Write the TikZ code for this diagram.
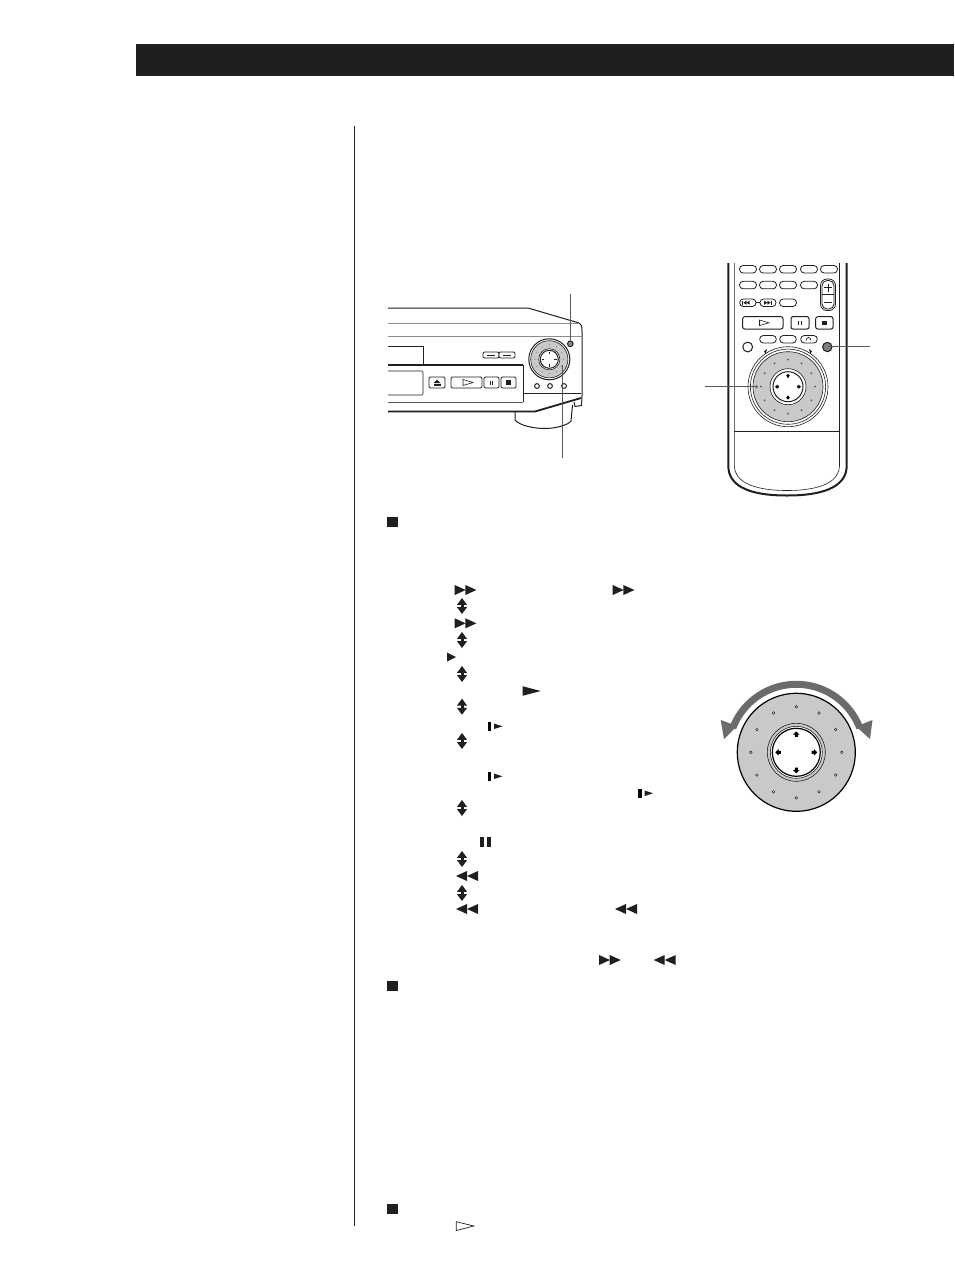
\documentclass[tikz,border=0pt]{standalone}
\definecolor{ink}{gray}{0.12}
\definecolor{dial}{gray}{0.79}
\definecolor{arrowgray}{gray}{0.42}
\tikzset{
  thinline/.style={draw=ink,line width=0.6pt},
  medline/.style={draw=ink,line width=1pt},
  heavy/.style={draw=ink,line width=1.8pt},
  greyline/.style={draw=black!45,line width=1.1pt},
  leader/.style={draw=black!65,line width=1pt},
  btn/.style={draw=ink,line width=0.8pt,fill=white,rounded corners=1.2pt},
  pill/.style={draw=ink,line width=0.8pt,fill=white,rounded corners=3.6pt},
  glyph/.style={fill=ink,draw=none}
}
% glyph macros: #1,#2 = position on the page
\newcommand{\tri}[4]{\fill[glyph] (#1,#2) ++(0,-#4/2) -- ++(#3,#4/2) -- ++(-#3,#4/2) -- cycle;}
\newcommand{\lefttri}[4]{\fill[glyph] (#1,#2) ++(0,-#4/2) -- ++(-#3,#4/2) -- ++(#3,#4/2) -- cycle;}
\newcommand{\ffwd}[2]{\tri{#1}{#2}{11}{10}\tri{#1+10.7}{#2}{11}{10}}
\newcommand{\rewd}[2]{\lefttri{#1+11}{#2}{11}{10}\lefttri{#1+22}{#2}{11}{10}}
\newcommand{\updn}[2]{\fill[glyph] (#1,#2-8) -- (#1+5,#2-1.2) -- (#1-5,#2-1.2) -- cycle;
  \fill[glyph] (#1,#2+8) -- (#1+5,#2+1.2) -- (#1-5,#2+1.2) -- cycle;
  \fill[glyph] (#1-1.5,#2-2) rectangle (#1+1.5,#2+2);}
\newcommand{\stepf}[2]{\fill[black] (#1,#2-4.5) rectangle (#1+3.6,#2+4.5);\tri{#1+6.3}{#2}{8.5}{5.5}}
\newcommand{\sqmark}[2]{\fill[glyph] (#1,#2) rectangle (#1+10.4,#2+10);}
% four small arrows round a centre: x, y, radius, half size
\newcommand{\cross}[4]{%
  \foreach \a in {0,90,180,270}{
    \begin{scope}[shift={(#1,#2)},rotate=\a]
    \fill[black] (#3+#4,0) -- (#3,#4) -- (#3,#4*0.45) -- (#3-#4*0.7,#4*0.45) -- (#3-#4*0.7,-#4*0.45) -- (#3,-#4*0.45) -- (#3,-#4) -- cycle;
    \end{scope}
  }}
\begin{document}
\begin{tikzpicture}[x=1pt,y=-1pt]
\useasboundingbox (0,0) rectangle (954,1272);
\fill[white] (0,0) rectangle (954,1272);
% header and column rule
\fill[ink] (136,44) rectangle (954,76);
\draw[thinline,line width=0.9pt] (354.5,126) -- (354.5,1226);

% ---------- CD player ----------
\draw[medline] (388,308) -- (528,308) -- (579,323) .. controls (581.5,324) and (582,326) .. (582,331) -- (582,396);
\draw[greyline] (388,323.5) -- (579,323.5);
\draw[greyline] (388,336.5) -- (582,336.5);
\draw[medline] (388,346.5) -- (423,346.5) -- (423,364);
\draw[heavy] (388,365) -- (523,365);
\draw[medline] (523,365) -- (523,402);
\draw[draw=black!65,line width=1pt] (388,402) -- (523,402);
\draw[thinline] (388,371) -- (422,371) -- (423,372) -- (423,394) -- (422,395) -- (388,395);
\draw[thinline] (523,393.5) -- (581,393.5);
% base and feet
\draw[medline] (515,412) -- (515,420) .. controls (520,426) and (535,428.5) .. (545,428.5) .. controls (556,428.5) and (568,425) .. (571,421) -- (572.5,405);
\draw[heavy] (388,411.5) -- (535,411.5) -- (581,398);
\draw[medline] (574,402) -- (575,406.5) -- (581.5,405.5) -- (582,396);
% small keys
\draw[btn] (483,352) rectangle (499,358);
\draw[btn] (499,352) rectangle (515,358);
\fill[glyph] (487,354.5) rectangle (495,355.8);
\fill[glyph] (503,354.5) rectangle (511,355.8);
% transport keys
\draw[btn] (429,377) rectangle (445,388);
\draw[btn] (451,377) rectangle (482,388);
\draw[btn] (484,377) rectangle (499,388);
\draw[btn] (501,377) rectangle (516,388);
\fill[glyph] (437,379.5) -- (440.5,383) -- (433.5,383) -- cycle;
\fill[glyph] (433.5,384) rectangle (440.5,385.5);
\draw[thinline,fill=white] (463,379.5) -- (473,382.5) -- (463,385.5) -- cycle;
\fill[glyph] (489.5,380.5) rectangle (490.8,384.5);
\fill[glyph] (492,380.5) rectangle (493.3,384.5);
\fill[glyph] (505.5,379.5) rectangle (511,385);
% dial
\draw[medline,fill=white] (549.3,359.3) circle (20.5);
\draw[thinline,fill=dial] (549.3,359.3) circle (18.6);
\foreach \a in {0,30,...,330}{\fill[black!60] (549.3,359.3) ++(\a:14.3) circle (0.55);}
\draw[thinline,fill=white] (549.3,359.3) circle (10.6);
\draw[medline,fill=white] (549.3,359.3) circle (9);
\foreach \a in {0,90,180,270}{\draw[ink,line width=0.6pt] (549.3,359.3) ++(\a:5) -- ++(\a:2.2);}
% round keys
\foreach \x in {537,550,564}{\draw[medline,fill=white] (\x,386) circle (2.4);}
\draw[medline,fill=black!45] (570.3,343.8) circle (2.8);
% leaders
\draw[leader] (570.7,294) -- (570.7,341);
\draw[leader] (562,458) -- (562,365);

% ---------- remote ----------
\draw[line width=2pt,draw=ink] (728.3,263) -- (728.3,466) .. controls (728.5,484) and (745,495.5) .. (787,495.5) .. controls (829,495.5) and (846.5,484) .. (846.7,466) -- (846.7,263);
\draw[thinline] (734.3,263) -- (734.3,466) .. controls (734.5,480) and (750,490.5) .. (787,490.5) .. controls (824,490.5) and (839.3,480) .. (839.5,466) -- (839.5,263);
\draw[medline] (734.3,431.7) -- (839.5,431.7);
\foreach \x in {748,768,788,809,829}{\draw[pill] (\x-8.5,265.5) rectangle (\x+8.5,273);}
\foreach \x in {748,768,788,809}{\draw[pill] (\x-8.5,281.3) rectangle (\x+8.5,288.8);}
\foreach \x in {788}{\draw[pill] (\x-8.5,299) rectangle (\x+8.5,306.5);}
\draw[pill] (739.7,299) rectangle (756,306.5);
\draw[pill] (760,299) rectangle (776,306.5);
\draw[thinline] (756,302.7) -- (760,302.7);
\lefttri{746.5}{302.7}{3.2}{4}\lefttri{749.7}{302.7}{3.2}{4}\fill[glyph] (742.2,300.7) rectangle (743.2,304.7);
\tri{764.2}{302.7}{3.2}{4}\tri{767.4}{302.7}{3.2}{4}\fill[glyph] (770.8,300.7) rectangle (771.8,304.7);
% volume rocker
\draw[draw=ink,line width=0.8pt,fill=white,rounded corners=6.5pt] (820.5,279) rectangle (835.5,310.5);
\draw[draw=ink,line width=0.8pt,fill=white,rounded corners=5.2pt] (822,280.5) rectangle (834,309);
\draw[thinline] (822,294.7) -- (834,294.7);
\draw[ink,line width=0.9pt] (824,287.5) -- (832,287.5);
\draw[ink,line width=0.9pt] (828,283.5) -- (828,291.5);
\draw[ink,line width=0.9pt] (824,302.5) -- (832,302.5);
% transport
\draw[btn,line width=1pt,rounded corners=2pt] (742.7,316.7) rectangle (783,329);
\draw[btn,line width=1pt,rounded corners=2pt] (791,316.7) rectangle (809,329);
\draw[btn,line width=1pt,rounded corners=2pt] (815.7,316.7) rectangle (833,329);
\draw[thinline,fill=white] (759.5,320) -- (769,322.8) -- (759.5,325.6) -- cycle;
\fill[glyph] (798,320.5) rectangle (799.4,325.2);
\fill[glyph] (800.8,320.5) rectangle (802.2,325.2);
\fill[glyph] (822.3,320.5) rectangle (826.8,325);
% row above dial
\foreach \x in {768,788,809}{\draw[pill] (\x-8.3,335.5) rectangle (\x+8.3,343);}
\draw[ink,line width=0.7pt] (806,340.5) .. controls (806.5,336.5) and (810.5,336.5) .. (811,340.5);
\draw[medline,fill=white] (747.7,347) circle (4.9);
\draw[medline,fill=black!50] (827.3,347) circle (4.7);
% dial
\draw[thinline,fill=white] (788,386.7) circle (40);
\draw[thinline] (788,386.7) circle (37.6);
\fill[glyph] (764,351.5) -- (767,349) -- (765.8,353.8) -- cycle;
\fill[glyph] (812,351.5) -- (809,349) -- (810.2,353.8) -- cycle;
\draw[thinline,fill=dial] (788,386.7) circle (35);
\foreach \a in {0,30,...,330}{\fill[black!65] (788,386.7) ++(\a:27) circle (1);}
\draw[thinline,fill=white] (788,386.7) circle (18);
\draw[medline,fill=white] (788,386.7) circle (15);
\cross{788}{386.7}{10.7}{2.2}
% leaders
\draw[leader] (828,346.3) -- (870,346.3);
\draw[leader,line width=1.2pt] (705,386.7) -- (757,386.7);
\fill[black!60] (756.5,386.7) circle (1.6);

% ---------- text-column glyphs ----------
\sqmark{387.3}{517}
\sqmark{387.3}{980.7}
\sqmark{387.3}{1204}
\ffwd{454.7}{590}\ffwd{612.7}{590}
\updn{462}{606}
\ffwd{454.7}{623.3}
\updn{462}{640}
\tri{447}{657}{9}{9}
\updn{462}{674}
\tri{522.7}{691}{18}{9.5}
\updn{462}{706.7}
\stepf{487.7}{726.3}
\updn{462}{741}
\stepf{487.7}{776.3}
\stepf{638.3}{793.3}
\updn{462}{808}
\fill[glyph] (480,837) rectangle (484,846.7);
\fill[glyph] (486.7,837) rectangle (490.7,846.7);
\updn{462}{859}
\rewd{456}{876}
\updn{462}{893}
\rewd{456}{909}\rewd{615}{909}
\ffwd{599}{960}\rewd{653.7}{960}
\draw[draw=ink,line width=0.7pt] (456.3,1221.7) -- (473.8,1226) -- (456.3,1230.5) -- cycle;

% ---------- large dial ----------
\draw[draw=black,line width=1.2pt,fill=dial] (796.3,752.3) circle (59);
\foreach \a in {0,30,...,330}{\draw[ink,line width=0.5pt,fill=white] (796.3,752.3) ++(\a:45.5) circle (1.3);}
\draw[thinline] (796.3,752.3) circle (29);
\draw[thinline,fill=white] (796.3,752.3) circle (26);
\draw[line width=1.2pt,draw=black,fill=white] (796.3,752.3) circle (24);
\cross{796.3}{752.3}{17.7}{3.3}
\draw[draw=arrowgray,line width=7pt] (796.3,752.3) ++(-159:68) arc[start angle=-159,end angle=-21,radius=68];
\fill[arrowgray] (724,739) -- (720.7,720) -- (737,726) -- cycle;
\fill[arrowgray] (870,739) -- (872.5,720) -- (856,726.5) -- cycle;
\end{tikzpicture}
\end{document}
